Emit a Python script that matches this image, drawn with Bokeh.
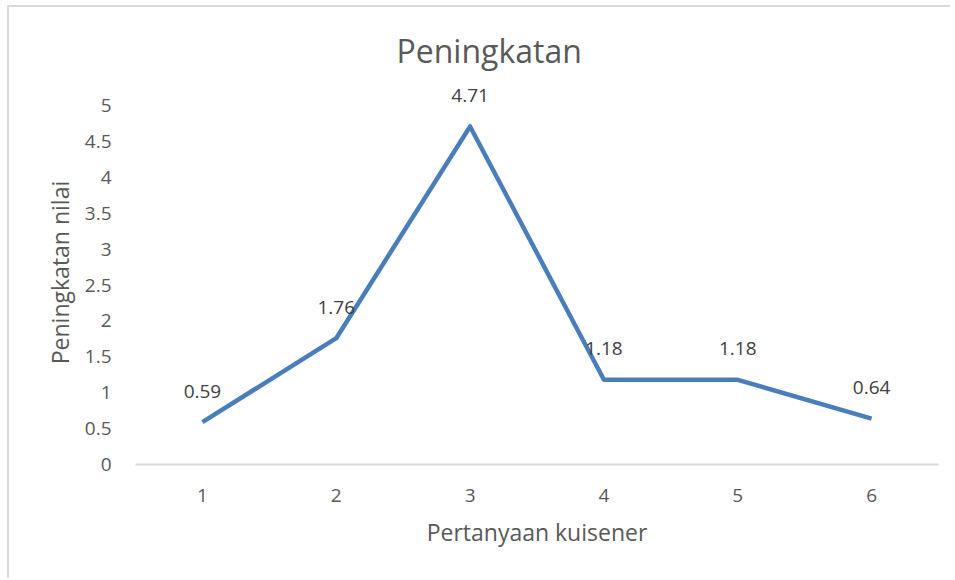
from bokeh.plotting import figure
from bokeh.models import ColumnDataSource, FixedTicker
from bokeh.core.properties import value
from bokeh.embed import file_html
from bokeh.resources import INLINE

questions = [1, 2, 3, 4, 5, 6]
values = [0.59, 1.76, 4.71, 1.18, 1.18, 0.64]
labels = ["0.59", "1.76", "4.71", "1.18", "1.18", "0.64"]
y_ticks = [0, 0.5, 1, 1.5, 2, 2.5, 3, 3.5, 4, 4.5, 5]
title_text = "Peningkatan"
x_title = "Pertanyaan kuisener"
y_title = "Peningkatan nilai"

src = ColumnDataSource(dict(x=questions, y=values, lab=labels))

FONT = "Open Sans"
# y range extends a little above the top tick (5) so the "4.71" data label is not clipped
p = figure(width=950, height=578, x_range=(0.5, 6.5), y_range=(0, 5.35),
           output_backend="svg", toolbar_location=None,
           min_border_left=135, min_border_right=12,
           min_border_top=80, min_border_bottom=114,
           title=title_text)
# chart-area border (top and left edges) painted behind a transparent canvas
p.border_fill_alpha = 0
p.background_fill_alpha = 0
p.styles = {"background": "linear-gradient(#d9d9d9, #d9d9d9) 7px 5px / 100% 2px no-repeat, "
                          "linear-gradient(#d9d9d9, #d9d9d9) 7px 5px / 2px 100% no-repeat, white"}
p.outline_line_color = None
p.grid.visible = False

p.title.align = "left"
p.title.offset = 261
p.title.standoff = 18
p.title.text_font = FONT
p.title.text_font_size = "32px"
p.title.text_font_style = "normal"
p.title.text_color = "#595959"

p.line("x", "y", source=src, line_color="#4a7ebb", line_width=4.5, line_join="round")
p.text("x", "y", text="lab", source=src, text_align="center", text_baseline="middle",
       y_offset=-31, text_font_size="19px", text_color="#404040",
       text_font=value(FONT))

p.xaxis.ticker = FixedTicker(ticks=questions)
p.yaxis.ticker = FixedTicker(ticks=y_ticks)
p.yaxis.formatter.use_scientific = False
for ax in (p.xaxis, p.yaxis):
    ax.major_tick_line_color = None
    ax.minor_tick_line_color = None
    ax.major_label_text_font = FONT
    ax.major_label_text_font_size = "19px"
    ax.major_label_text_color = "#595959"
    ax.axis_label_text_font = FONT
    ax.axis_label_text_font_size = "23px"
    ax.axis_label_text_font_style = "normal"
    ax.axis_label_text_color = "#595959"
p.yaxis.axis_line_color = None
p.xaxis.axis_line_color = "#d9d9d9"
p.xaxis.axis_line_width = 2
p.xaxis.major_label_standoff = 18
p.yaxis.major_label_standoff = 18
p.xaxis.axis_label = x_title
p.yaxis.axis_label = y_title
p.xaxis.axis_label_standoff = 11
p.yaxis.axis_label_standoff = 6

open("out.html", "w").write(file_html(p, INLINE))
